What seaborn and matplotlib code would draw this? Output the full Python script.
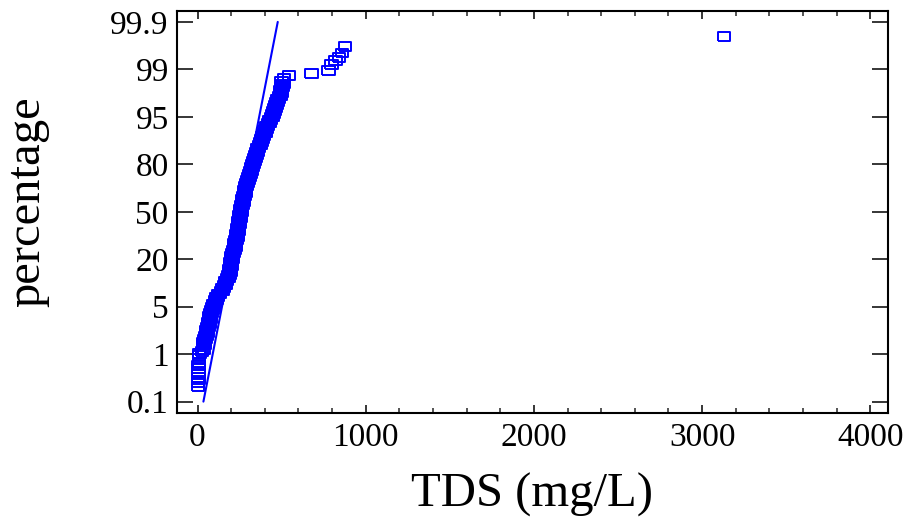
import numpy as np
import matplotlib
matplotlib.use("Agg")
import matplotlib.pyplot as plt
from matplotlib.ticker import FixedLocator, FixedFormatter, MultipleLocator
import seaborn as sns

# ---- data ----
prob_ticks = [0.1, 1, 5, 20, 50, 80, 95, 99, 99.9]
prob_labels = ["0.1", "1", "5", "20", "50", "80", "95", "99", "99.9"]

# dense part of the probability plot (overlapping samples)
band_tds = [36, 41, 46, 51, 54, 59, 63, 67, 70, 74, 77, 80, 85,
            90, 100, 109, 118, 130, 143, 154, 164, 172, 180, 187, 192, 195, 199, 202, 204,
            207, 211, 215, 221, 225, 228, 233, 237, 240, 243, 246, 249, 252, 255, 258,
            261, 265, 268, 272, 275, 280, 284, 290, 297, 303, 308, 314, 320, 325, 332,
            334, 339, 346, 353, 361, 369, 378, 385, 392, 399, 407, 415, 422, 431, 440,
            449, 456, 461, 468, 475, 481, 488, 494, 499, 504, 507]
band_pct = [1.75, 2.0, 2.25, 2.5, 2.75, 3.0, 3.25, 3.5, 3.75, 4.0, 4.25, 4.5, 4.75,
            5, 6, 7, 8, 9, 10, 11, 12, 13, 14, 15, 16, 17, 18, 19, 20,
            22, 24, 26, 28, 30, 32, 34, 36, 38, 40, 42, 44, 46, 48, 50,
            52, 54, 56, 58, 60, 62, 64, 66, 68, 70, 72, 74, 76, 78, 80,
            81, 82, 83, 84, 85, 86, 87, 88, 89, 90, 91, 92, 93, 94, 95,
            95.25, 95.5, 95.75, 96, 96.25, 96.5, 96.75, 97, 97.25, 97.5, 97.75]

# individually visible samples in the tails
low_tds = [3, 4, 5, 5, 6, 6, 7, 7, 8, 9, 10, 13, 27, 39]
low_pct = [0.39, 0.46, 0.51, 0.56, 0.61, 0.66, 0.72, 0.79, 0.85, 0.91, 0.98, 1.08, 1.23, 1.39]
high_tds = [500, 515, 544, 678, 779, 797, 821, 842, 860, 877, 3130]
high_pct = [97.98, 98.25, 98.49, 98.66, 98.89, 99.09, 99.16, 99.23, 99.31, 99.43, 99.62]

# fitted reference line
line_tds = [35, 477]
line_pct = [0.1, 99.9]

# ---- probability axis: tick labels equally spaced ----
P = np.array(prob_ticks, float)
U = np.arange(len(P), dtype=float)


def fwd(p):
    p = np.asarray(p, float)
    u = np.interp(p, P, U)
    u = np.where(p < P[0], (p - P[0]) / (P[1] - P[0]), u)
    u = np.where(p > P[-1], U[-1] + (p - P[-1]) / (P[-1] - P[-2]), u)
    return u


def inv(u):
    u = np.asarray(u, float)
    p = np.interp(u, U, P)
    p = np.where(u < U[0], P[0] + (u - U[0]) * (P[1] - P[0]), p)
    p = np.where(u > U[-1], P[-1] + (u - U[-1]) * (P[-1] - P[-2]), p)
    return p


sns.set_style("ticks")
plt.rcParams["font.family"] = ["Liberation Serif", "DejaVu Serif"]
plt.rcParams["text.color"] = "black"
plt.rcParams["axes.labelcolor"] = "black"

fig = plt.figure(figsize=(9.04, 5.28), dpi=100)
ax = fig.add_axes([177 / 904, 1 - 413 / 528, (888 - 177) / 904, (413 - 11) / 528])
ax.set_yscale("function", functions=(fwd, inv))

rect = [(-1.4, -1), (1.4, -1), (1.4, 1), (-1.4, 1), (-1.4, -1)]
wide_rect = [(-1.7, -1), (1.7, -1), (1.7, 1), (-1.7, 1), (-1.7, -1)]
blue = "#0000FF"

sns.scatterplot(x=band_tds, y=band_pct, ax=ax, marker=wide_rect, s=110,
                color=blue, edgecolor=blue, linewidth=1.4, zorder=3)
sns.scatterplot(x=low_tds + high_tds, y=low_pct + high_pct, ax=ax, marker=rect, s=81,
                color=blue, facecolor="none", edgecolor=blue, linewidth=1.4, zorder=3)
sns.lineplot(x=line_tds, y=line_pct, ax=ax, color=blue, linewidth=1.5, zorder=4)

ax.set_xlim(-122, 4105)
ax.set_ylim(inv(-0.24), inv(8.23))

ax.yaxis.set_major_locator(FixedLocator(prob_ticks))
ax.yaxis.set_major_formatter(FixedFormatter(prob_labels))
ax.yaxis.set_minor_locator(FixedLocator([]))
ax.xaxis.set_major_locator(MultipleLocator(1000))
ax.xaxis.set_minor_locator(MultipleLocator(200))

for s in ax.spines.values():
    s.set_visible(True)
    s.set_linewidth(1.5)
    s.set_color("black")

ax.tick_params(axis="y", which="major", direction="in", length=11.5, width=1.1,
               left=True, right=True, labelsize=24, pad=6, colors="black")
ax.tick_params(axis="x", which="major", direction="in", length=6, width=1.1,
               top=True, bottom=True, labelsize=24, pad=7, colors="black")
ax.tick_params(axis="x", which="minor", direction="in", length=3.5, width=1.1,
               top=True, bottom=True)

ax.set_xlabel("TDS (mg/L)", fontsize=35, labelpad=14, color="black")
ax.set_ylabel("percentage", fontsize=35, labelpad=44, color="black")
ax.yaxis.label.set_y(0.525)

fig.savefig("out.png", dpi=100)
